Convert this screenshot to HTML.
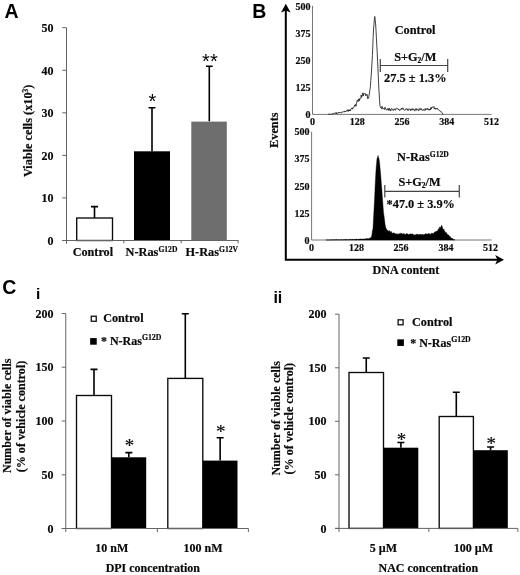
<!DOCTYPE html>
<html><head><meta charset="utf-8"><title>Figure</title>
<style>
html,body{margin:0;padding:0;background:#fff;}
svg{display:block;will-change:transform;filter:blur(0.35px);}
text{font-family:"Liberation Serif",serif;font-weight:bold;fill:#0a0a0a;stroke:#0a0a0a;stroke-width:0.18;}
.sans{font-family:"Liberation Sans",sans-serif;font-weight:bold;fill:#000;stroke:none;}
.ax{stroke:#646464;stroke-width:1;fill:none;}
.bk{stroke:#000;stroke-width:1.6;fill:none;}
</style></head><body>
<svg width="520" height="575" viewBox="0 0 520 575">
<rect width="520" height="575" fill="#fff"/>

<g id="panelA">
<text class="sans" x="4.6" y="18" font-size="19.5">A</text>
<path class="ax" d="M62.3,240.5 H66.5"/>
<text x="53.6" y="244.7" font-size="12" text-anchor="end" >0</text>
<path class="ax" d="M62.3,197.9 H66.5"/>
<text x="53.6" y="202.1" font-size="12" text-anchor="end" >10</text>
<path class="ax" d="M62.3,155.4 H66.5"/>
<text x="53.6" y="159.6" font-size="12" text-anchor="end" >20</text>
<path class="ax" d="M62.3,112.8 H66.5"/>
<text x="53.6" y="117.0" font-size="12" text-anchor="end" >30</text>
<path class="ax" d="M62.3,70.3 H66.5"/>
<text x="53.6" y="74.5" font-size="12" text-anchor="end" >40</text>
<path class="ax" d="M62.3,27.7 H66.5"/>
<text x="53.6" y="31.9" font-size="12" text-anchor="end" >50</text>
<rect x="76.7" y="218" width="35.8" height="22.5" fill="#fff" stroke="#0a0a0a" stroke-width="1.35"/>
<path class="bk" d="M94.5,218 V206.6 M91,206.6 H98"/>
<rect x="134" y="151.3" width="36" height="89.2" fill="#000"/>
<path class="bk" d="M152,151.3 V107.7 M148.6,107.7 H155.4"/>
<rect x="191.3" y="121.6" width="35.5" height="118.9" fill="#6e6e6e"/>
<path class="bk" d="M209.3,121.3 V66.2 M206,66.2 H212.7"/>
<path class="ax" d="M66.5,27.7 V243.8 M62.3,240.5 H238.6"/>
<path class="ax" d="M123.8,240.5 V243.4 M181.2,240.5 V243.4 M238.1,240.5 V243.4"/>
<text x="152.5" y="108.1" font-size="20" text-anchor="middle" class="sans" style="font-weight:normal">*</text>
<text x="210.1" y="68.0" font-size="20" text-anchor="middle" class="sans" style="font-weight:normal;letter-spacing:0.3px">**</text>
<text x="92.9" y="255.8" font-size="12.2" text-anchor="middle" >Control</text>
<text x="125.6" y="255.9" font-size="12.3">N-Ras<tspan font-size="7.6" dy="-4.2">G12D</tspan></text>
<text x="185.5" y="255.9" font-size="12.3">H-Ras<tspan font-size="7.6" dy="-4.2">G12V</tspan></text>
<text transform="translate(31.5,130.8) rotate(-90)" text-anchor="middle" font-size="12.25">Viable cells (x10<tspan font-size="7.6" dy="-4">3</tspan><tspan dy="4">)</tspan></text>
</g>
<g id="panelB">
<text class="sans" x="252.2" y="17.5" font-size="19.5">B</text>
<path d="M285.8,8 V259.8 H498" stroke="#000" stroke-width="2" fill="none"/>
<path d="M285.8,3.8 L281,12.6 L285.8,10.4 L290.6,12.6 Z" fill="#000"/>
<path d="M504,259.8 L495.2,255 L497.4,259.8 L495.2,264.6 Z" fill="#000"/>
<text transform="translate(278,130.2) rotate(-90)" text-anchor="middle" font-size="12.3">Events</text>
<text x="405.9" y="273.6" font-size="12.1" text-anchor="middle" >DNA content</text>
<path d="M312.5,5.8 V114.4 H491.5" stroke="#4a4a4a" stroke-width="0.75" fill="none"/>
<text x="310.4" y="9.5" font-size="10" text-anchor="end" >500</text>
<text x="310.4" y="36.7" font-size="10" text-anchor="end" >375</text>
<text x="310.4" y="63.8" font-size="10" text-anchor="end" >250</text>
<text x="310.4" y="91.0" font-size="10" text-anchor="end" >125</text>
<text x="310.4" y="118.1" font-size="10" text-anchor="end" >0</text>
<text x="312.5" y="125.2" font-size="10" text-anchor="middle" >0</text>
<text x="357.2" y="125.2" font-size="10" text-anchor="middle" >128</text>
<text x="402.0" y="125.2" font-size="10" text-anchor="middle" >256</text>
<text x="446.8" y="125.2" font-size="10" text-anchor="middle" >384</text>
<text x="491.5" y="125.2" font-size="10" text-anchor="middle" >512</text>
<path d="M328.0,114.3 L328.4,114.3 L328.8,114.1 L329.2,114.3 L329.6,114.1 L330.0,114.2 L330.4,114.3 L330.8,113.9 L331.2,114.3 L331.6,113.9 L332.0,114.2 L332.4,114.2 L332.8,113.7 L333.2,113.2 L333.6,114.0 L334.0,113.8 L334.4,113.3 L334.8,112.8 L335.2,113.2 L335.6,113.4 L336.0,112.5 L336.4,113.7 L336.8,112.6 L337.2,113.3 L337.6,113.4 L338.0,113.4 L338.4,113.0 L338.8,112.2 L339.2,113.1 L339.6,112.4 L340.0,112.3 L340.4,112.6 L340.8,112.3 L341.2,113.0 L341.6,112.9 L342.0,112.6 L342.4,111.7 L342.8,112.1 L343.2,112.2 L343.6,111.6 L344.0,111.8 L344.4,112.0 L344.8,111.0 L345.2,111.1 L345.6,111.9 L346.0,111.2 L346.4,111.1 L346.8,110.3 L347.2,110.4 L347.6,111.2 L348.0,109.6 L348.4,111.4 L348.8,110.6 L349.2,109.7 L349.6,111.0 L350.0,110.0 L350.4,110.9 L350.8,109.1 L351.2,108.6 L351.6,108.9 L352.0,107.8 L352.4,109.2 L352.8,107.8 L353.2,107.8 L353.6,107.4 L354.0,107.4 L354.4,105.7 L354.8,104.9 L355.2,106.0 L355.6,104.5 L356.0,106.3 L356.4,102.9 L356.8,102.4 L357.2,100.2 L357.6,100.2 L358.0,101.7 L358.4,100.7 L358.8,98.9 L359.2,101.0 L359.6,98.6 L360.0,99.2 L360.4,98.8 L360.8,98.5 L361.2,95.0 L361.6,97.3 L362.0,96.4 L362.4,95.4 L362.8,92.9 L363.2,95.9 L363.6,94.1 L364.0,94.1 L364.4,93.1 L364.8,93.8 L365.2,93.6 L365.6,95.7 L366.0,94.8 L366.4,95.3 L366.8,94.1 L367.2,94.7 L367.6,98.6 L368.0,98.9 L368.4,98.2 L368.8,96.8 L369.2,94.4 L369.6,91.9 L370.0,89.3 L370.4,86.4 L370.8,80.4 L371.2,75.4 L371.6,69.0 L372.0,62.2 L372.4,55.6 L372.8,46.2 L373.2,36.4 L373.6,27.9 L374.0,24.5 L374.4,18.7 L374.8,16.5 L375.2,20.1 L375.6,23.9 L376.0,30.2 L376.4,37.8 L376.8,45.8 L377.2,52.4 L377.6,61.2 L378.0,69.9 L378.4,78.3 L378.8,87.9 L379.2,94.2 L379.6,100.8 L380.0,106.4 L380.4,106.7 L380.8,107.8 L381.2,107.4 L381.6,108.8 L382.0,106.3 L382.4,107.3 L382.8,108.9 L383.2,108.7 L383.6,108.5 L384.0,108.6 L384.4,109.5 L384.8,107.5 L385.2,107.2 L385.6,108.9 L386.0,108.9 L386.4,110.1 L386.8,110.1 L387.2,109.5 L387.6,109.8 L388.0,108.3 L388.4,110.1 L388.8,110.5 L389.2,108.1 L389.6,109.3 L390.0,110.4 L390.4,109.4 L390.8,110.8 L391.2,109.5 L391.6,108.4 L392.0,108.8 L392.4,109.2 L392.8,110.2 L393.2,109.9 L393.6,110.4 L394.0,108.9 L394.4,109.4 L394.8,108.8 L395.2,109.9 L395.6,110.2 L396.0,108.6 L396.4,108.1 L396.8,108.4 L397.2,108.5 L397.6,108.4 L398.0,108.6 L398.4,110.0 L398.8,109.1 L399.2,109.5 L399.6,110.4 L400.0,110.4 L400.4,109.7 L400.8,109.8 L401.2,108.7 L401.6,108.0 L402.0,109.4 L402.4,108.1 L402.8,108.0 L403.2,108.1 L403.6,109.7 L404.0,110.1 L404.4,110.1 L404.8,110.2 L405.2,110.2 L405.6,109.2 L406.0,108.5 L406.4,108.7 L406.8,109.6 L407.2,109.2 L407.6,108.9 L408.0,110.7 L408.4,109.3 L408.8,108.7 L409.2,109.0 L409.6,109.2 L410.0,109.9 L410.4,110.6 L410.8,109.1 L411.2,110.2 L411.6,109.0 L412.0,108.6 L412.4,110.0 L412.8,110.0 L413.2,108.7 L413.6,109.2 L414.0,110.6 L414.4,110.7 L414.8,110.6 L415.2,108.7 L415.6,109.0 L416.0,110.6 L416.4,108.9 L416.8,108.5 L417.2,109.3 L417.6,110.1 L418.0,109.6 L418.4,110.6 L418.8,110.9 L419.2,108.5 L419.6,109.3 L420.0,109.6 L420.4,108.6 L420.8,109.8 L421.2,108.7 L421.6,108.8 L422.0,110.4 L422.4,110.3 L422.8,110.2 L423.2,110.3 L423.6,109.4 L424.0,110.2 L424.4,109.8 L424.8,110.5 L425.2,108.5 L425.6,109.9 L426.0,109.7 L426.4,109.3 L426.8,108.5 L427.2,109.7 L427.6,108.4 L428.0,109.5 L428.4,109.3 L428.8,109.1 L429.2,110.3 L429.6,109.0 L430.0,109.6 L430.4,110.0 L430.8,107.5 L431.2,109.1 L431.6,107.9 L432.0,106.8 L432.4,107.0 L432.8,107.5 L433.2,106.8 L433.6,107.0 L434.0,106.6 L434.4,109.1 L434.8,108.0 L435.2,109.1 L435.6,109.2 L436.0,107.9 L436.4,108.8 L436.8,108.9 L437.2,108.5 L437.6,108.3 L438.0,109.8 L438.4,109.7 L438.8,110.2 L439.2,110.5 L439.6,110.4 L440.0,111.2 L440.4,111.4 L440.8,111.9 L441.2,111.6 L441.6,112.4 L442.0,112.6 L442.4,113.0 L442.8,114.2 L443.2,114.2" fill="none" stroke="#1e1e1e" stroke-width="0.85" stroke-linejoin="round"/>
<path d="M311.6,131.6 V240.0 H491.5" stroke="#4a4a4a" stroke-width="0.75" fill="none"/>
<text x="309.5" y="135.3" font-size="10" text-anchor="end" >500</text>
<text x="309.5" y="162.4" font-size="10" text-anchor="end" >375</text>
<text x="309.5" y="189.5" font-size="10" text-anchor="end" >250</text>
<text x="309.5" y="216.6" font-size="10" text-anchor="end" >125</text>
<text x="309.5" y="243.7" font-size="10" text-anchor="end" >0</text>
<text x="311.6" y="250.8" font-size="10" text-anchor="middle" >0</text>
<text x="356.4" y="250.8" font-size="10" text-anchor="middle" >128</text>
<text x="401.1" y="250.8" font-size="10" text-anchor="middle" >256</text>
<text x="445.9" y="250.8" font-size="10" text-anchor="middle" >384</text>
<text x="490.6" y="250.8" font-size="10" text-anchor="middle" >512</text>
<path d="M326,240.0 L326.0,239.8 L326.5,239.9 L327.0,240.0 L327.5,240.0 L328.0,240.0 L328.5,240.0 L329.0,240.0 L329.5,240.0 L330.0,239.8 L330.5,239.8 L331.0,239.7 L331.5,240.0 L332.0,239.8 L332.5,239.8 L333.0,240.0 L333.5,239.7 L334.0,239.6 L334.5,239.9 L335.0,239.6 L335.5,239.8 L336.0,239.8 L336.5,239.6 L337.0,239.6 L337.5,239.9 L338.0,239.8 L338.5,239.7 L339.0,239.8 L339.5,239.9 L340.0,239.8 L340.5,239.6 L341.0,239.9 L341.5,239.6 L342.0,239.7 L342.5,239.9 L343.0,239.7 L343.5,239.6 L344.0,239.6 L344.5,239.8 L345.0,239.3 L345.5,239.4 L346.0,239.3 L346.5,239.7 L347.0,239.6 L347.5,239.7 L348.0,239.4 L348.5,239.6 L349.0,239.7 L349.5,239.5 L350.0,239.2 L350.5,239.3 L351.0,239.5 L351.5,239.6 L352.0,239.2 L352.5,239.3 L353.0,239.3 L353.5,239.6 L354.0,239.6 L354.5,239.2 L355.0,239.3 L355.5,239.5 L356.0,239.0 L356.5,239.1 L357.0,239.0 L357.5,239.4 L358.0,239.0 L358.5,239.4 L359.0,238.9 L359.5,239.1 L360.0,239.2 L360.5,239.0 L361.0,238.8 L361.5,239.2 L362.0,239.2 L362.5,238.9 L363.0,239.1 L363.5,239.1 L364.0,239.0 L364.5,239.1 L365.0,238.9 L365.5,238.8 L366.0,238.8 L366.5,238.4 L367.0,238.7 L367.5,238.5 L368.0,238.7 L368.5,238.6 L369.0,238.7 L369.5,238.3 L370.0,238.2 L370.5,237.4 L371.0,237.2 L371.5,237.3 L372.0,234.0 L372.5,230.0 L373.0,228.9 L373.5,218.3 L374.0,209.4 L374.5,200.0 L375.0,188.9 L375.5,178.6 L376.0,169.8 L376.5,164.2 L377.0,158.5 L377.5,157.6 L378.0,155.4 L378.5,157.2 L379.0,158.9 L379.5,162.1 L380.0,167.2 L380.5,172.5 L381.0,179.1 L381.5,185.8 L382.0,191.7 L382.5,198.9 L383.0,205.7 L383.5,212.5 L384.0,215.8 L384.5,219.5 L385.0,224.1 L385.5,226.5 L386.0,228.1 L386.5,229.5 L387.0,229.6 L387.5,230.8 L388.0,230.6 L388.5,231.5 L389.0,230.5 L389.5,230.7 L390.0,231.7 L390.5,232.4 L391.0,231.1 L391.5,232.6 L392.0,232.6 L392.5,233.4 L393.0,232.9 L393.5,232.8 L394.0,232.9 L394.5,233.6 L395.0,233.2 L395.5,234.1 L396.0,233.7 L396.5,234.1 L397.0,233.6 L397.5,234.2 L398.0,234.3 L398.5,233.9 L399.0,234.0 L399.5,233.5 L400.0,233.7 L400.5,233.3 L401.0,233.5 L401.5,233.5 L402.0,233.3 L402.5,234.1 L403.0,234.3 L403.5,233.3 L404.0,234.7 L404.5,233.8 L405.0,234.0 L405.5,234.9 L406.0,233.7 L406.5,233.6 L407.0,234.1 L407.5,233.9 L408.0,233.8 L408.5,234.8 L409.0,234.3 L409.5,234.3 L410.0,233.8 L410.5,233.9 L411.0,233.9 L411.5,234.2 L412.0,233.8 L412.5,234.1 L413.0,234.1 L413.5,234.8 L414.0,235.1 L414.5,235.0 L415.0,234.7 L415.5,235.1 L416.0,234.0 L416.5,234.4 L417.0,234.3 L417.5,234.3 L418.0,234.3 L418.5,234.6 L419.0,235.3 L419.5,234.1 L420.0,234.2 L420.5,234.6 L421.0,234.5 L421.5,234.2 L422.0,235.1 L422.5,234.0 L423.0,234.7 L423.5,235.0 L424.0,234.6 L424.5,233.9 L425.0,234.7 L425.5,233.8 L426.0,233.4 L426.5,234.1 L427.0,234.2 L427.5,234.0 L428.0,233.7 L428.5,233.5 L429.0,233.7 L429.5,233.6 L430.0,234.5 L430.5,234.2 L431.0,233.9 L431.5,232.9 L432.0,233.5 L432.5,232.9 L433.0,233.7 L433.5,233.5 L434.0,233.0 L434.5,232.0 L435.0,231.8 L435.5,231.5 L436.0,231.9 L436.5,231.1 L437.0,230.8 L437.5,230.4 L438.0,230.8 L438.5,228.6 L439.0,229.6 L439.5,227.3 L440.0,226.8 L440.5,228.3 L441.0,226.7 L441.5,225.3 L442.0,225.8 L442.5,227.8 L443.0,229.0 L443.5,229.9 L444.0,229.0 L444.5,231.4 L445.0,231.3 L445.5,232.8 L446.0,232.6 L446.5,232.5 L447.0,234.4 L447.5,233.9 L448.0,235.0 L448.5,234.9 L449.0,235.6 L449.5,236.6 L450.0,236.2 L450.5,237.1 L451.0,237.9 L451.5,238.3 L452.0,238.2 L452.5,238.6 L453.0,239.0 L453.5,239.4 L454.0,239.5 L454.5,239.8 L455.0,239.9 L455,240.0 Z" fill="#000" stroke="#000" stroke-width="0.4"/>
<path d="M380.3,65.5 H447.7 M380.3,59 V72 M447.7,59 V72" stroke="#444" stroke-width="1.2" fill="none"/>
<path d="M384.8,191.3 H459.3 M384.8,185 V197.4 M459.3,185 V197.4" stroke="#444" stroke-width="1.2" fill="none"/>
<text x="394.7" y="34.2" font-size="12.3" text-anchor="start" >Control</text>
<text x="394.2" y="60.8" font-size="12.3">S+G<tspan font-size="7.5" dy="2">2</tspan><tspan dy="-2">/M</tspan></text>
<text x="384" y="82" font-size="12.4" text-anchor="start" >27.5 ± 1.3%</text>
<text x="397" y="161.3" font-size="12.3">N-Ras<tspan font-size="7.6" dy="-4.5">G12D</tspan></text>
<text x="398.4" y="186.3" font-size="12.3">S+G<tspan font-size="7.5" dy="2">2</tspan><tspan dy="-2">/M</tspan></text>
<text x="386.6" y="207.5" font-size="12.3" text-anchor="start" >*47.0 ± 3.9%</text>
</g>
<text class="sans" x="2.2" y="294.4" font-size="19.5">C</text>
<g id="panelCi">
<text class="sans" x="36.0" y="299" font-size="15.5">i</text>
<path class="ax" d="M61.75,528.5 H65.75"/>
<text x="53.4" y="532.6" font-size="12" text-anchor="end" >0</text>
<path class="ax" d="M61.75,474.8 H65.75"/>
<text x="53.4" y="478.9" font-size="12" text-anchor="end" >50</text>
<path class="ax" d="M61.75,421.0 H65.75"/>
<text x="53.4" y="425.1" font-size="12" text-anchor="end" >100</text>
<path class="ax" d="M61.75,367.2 H65.75"/>
<text x="53.4" y="371.4" font-size="12" text-anchor="end" >150</text>
<path class="ax" d="M61.75,313.5 H65.75"/>
<text x="53.4" y="317.6" font-size="12" text-anchor="end" >200</text>
<path class="ax" d="M157.4,528.5 V532.0 M248.4,528.5 V532.0"/>
<rect x="76.5" y="395.5" width="35" height="133.0" fill="#fff" stroke="#0a0a0a" stroke-width="1.35"/>
<path class="bk" d="M94.0,395.5 V369.4 M90.5,369.4 H97.5"/>
<rect x="111.5" y="457.3" width="34.7" height="71.2" fill="#000"/>
<path class="bk" d="M128.85,457.3 V452.6 M125.35,452.6 H132.35"/>
<text x="129.54999999999998" y="451.6" font-size="19" text-anchor="middle" style="font-weight:normal">*</text>
<rect x="167.8" y="378.4" width="35" height="150.1" fill="#fff" stroke="#0a0a0a" stroke-width="1.35"/>
<path class="bk" d="M185.3,378.4 V313.8 M181.8,313.8 H188.8"/>
<rect x="202.8" y="460.6" width="34.7" height="67.9" fill="#000"/>
<path class="bk" d="M220.15,460.6 V437.8 M216.65,437.8 H223.65"/>
<text x="220.85" y="438.4" font-size="19" text-anchor="middle" style="font-weight:normal">*</text>
<path class="ax" d="M65.75,313.5 V532.0 M61.75,528.5 H248.4"/>
<rect x="91.25" y="316.25" width="5" height="5" fill="#fff" stroke="#111" stroke-width="1.3"/>
<rect x="90.15" y="338.09999999999997" width="6.6" height="6.6" fill="#000"/>
<text x="103.2" y="321.8" font-size="12.2" text-anchor="start" >Control</text>
<text x="100.9" y="344.7" font-size="12">* N-Ras<tspan font-size="7.8" dy="-5.2">G12D</tspan></text>
<text x="111.8" y="551.8" font-size="12" text-anchor="middle" >10 nM</text>
<text x="203.0" y="551.8" font-size="12" text-anchor="middle" >100 nM</text>
<text x="152.8" y="572.1" font-size="12" text-anchor="middle" >DPI concentration</text>
<text transform="translate(11,415.8) rotate(-90)" text-anchor="middle" font-size="12.05">Number of viable cells</text>
<text transform="translate(24.5,416.5) rotate(-90)" text-anchor="middle" font-size="12.1">(% of vehicle control)</text>
</g>
<g id="panelCii">
<text class="sans" x="273.4" y="302.8" font-size="16">ii</text>
<path class="ax" d="M335.0,528.4 H339.0"/>
<text x="326.4" y="532.5" font-size="12" text-anchor="end" >0</text>
<path class="ax" d="M335.0,474.8 H339.0"/>
<text x="326.4" y="479.0" font-size="12" text-anchor="end" >50</text>
<path class="ax" d="M335.0,421.3 H339.0"/>
<text x="326.4" y="425.4" font-size="12" text-anchor="end" >100</text>
<path class="ax" d="M335.0,367.8 H339.0"/>
<text x="326.4" y="371.9" font-size="12" text-anchor="end" >150</text>
<path class="ax" d="M335.0,314.2 H339.0"/>
<text x="326.4" y="318.3" font-size="12" text-anchor="end" >200</text>
<path class="ax" d="M428.8,528.4 V531.9 M517.9,528.4 V531.9"/>
<rect x="349" y="372.5" width="34.5" height="155.9" fill="#fff" stroke="#0a0a0a" stroke-width="1.35"/>
<path class="bk" d="M366.25,372.5 V358 M362.75,358 H369.75"/>
<rect x="383.5" y="447.7" width="34.8" height="80.7" fill="#000"/>
<path class="bk" d="M400.9,447.7 V442.5 M397.4,442.5 H404.4"/>
<text x="401.59999999999997" y="445.8" font-size="19" text-anchor="middle" style="font-weight:normal">*</text>
<rect x="439.2" y="416.5" width="34.2" height="111.9" fill="#fff" stroke="#0a0a0a" stroke-width="1.35"/>
<path class="bk" d="M456.3,416.5 V392.3 M452.8,392.3 H459.8"/>
<rect x="473.4" y="450.2" width="34.4" height="78.2" fill="#000"/>
<path class="bk" d="M490.59999999999997,450.2 V447 M487.09999999999997,447 H494.09999999999997"/>
<text x="491.29999999999995" y="449.8" font-size="19" text-anchor="middle" style="font-weight:normal">*</text>
<path class="ax" d="M339.0,314.2 V531.9 M335.0,528.4 H517.9"/>
<rect x="398.1" y="319.8" width="5" height="5" fill="#fff" stroke="#111" stroke-width="1.3"/>
<rect x="397.3" y="339.34999999999997" width="6.6" height="6.6" fill="#000"/>
<text x="412.0" y="325.8" font-size="12.2" text-anchor="start" >Control</text>
<text x="410.2" y="347.4" font-size="12">* N-Ras<tspan font-size="7.8" dy="-5.2">G12D</tspan></text>
<text x="383.4" y="551.8" font-size="12" text-anchor="middle" >5 µM</text>
<text x="473.4" y="551.8" font-size="12" text-anchor="middle" >100 µM</text>
<text x="428.3" y="572.1" font-size="12" text-anchor="middle" >NAC concentration</text>
<text transform="translate(279.5,418.3) rotate(-90)" text-anchor="middle" font-size="12.05">Number of viable cells</text>
<text transform="translate(292.6,418.7) rotate(-90)" text-anchor="middle" font-size="12.1">(% of vehicle control)</text>
</g>
</svg></body></html>
